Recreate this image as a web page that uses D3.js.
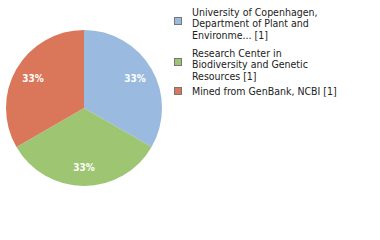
<!DOCTYPE html>
<html>
<head>
<meta charset="utf-8">
<script src="https://cdn.jsdelivr.net/npm/d3@7"></script>
<style>
  body { margin: 0; background: #fff; }
  svg { display: block; font-family: "DejaVu Sans Condensed", "DejaVu Sans", sans-serif; }
</style>
</head>
<body>
<svg id="chart" width="380" height="240"></svg>
<script>
// data
var labels = [
    ["University of Copenhagen,", "Department of Plant and", "Environme... [1]"],
    ["Research Center in", "Biodiversity and Genetic", "Resources [1]"],
    ["Mined from GenBank, NCBI [1]"]
];
var counts = [1, 1, 1];
var colors = ["#9bbae0", "#9dc572", "#da765a"];

var svg = d3.select("#chart");
var cx = 84, cy = 108, radius = 78;

var pie = d3.pie().sort(null).value(function(d) { return d; });
var arcs = pie(counts);
var total = d3.sum(counts);
var arc = d3.arc().innerRadius(0).outerRadius(radius);
var labelArc = d3.arc().innerRadius(59).outerRadius(59);

var g = svg.append("g").attr("transform", "translate(" + cx + "," + cy + ")");

g.selectAll(".slice").data(arcs).enter()
    .append("path")
    .attr("class", "slice")
    .attr("d", arc)
    .attr("fill", function(d, i) { return colors[i]; });

g.selectAll(".pct").data(arcs).enter()
    .append("text")
    .attr("class", "pct")
    .attr("transform", function(d) { return "translate(" + labelArc.centroid(d) + ")"; })
    .attr("text-anchor", "middle")
    .attr("dy", "0.35em")
    .attr("font-size", "10px")
    .attr("font-weight", "bold")
    .attr("fill", "#fff")
    .text(function(d) { return Math.round(d.value / total * 100) + "%"; });

// legend
var boxY = [21, 62, 91];        // square centres
var firstLine = [15.5, 56.5, 94.5]; // first baseline of each entry
var legend = svg.selectAll(".legend").data(labels).enter()
    .append("g")
    .attr("class", "legend");

legend.append("rect")
    .attr("x", 174.5).attr("y", function(d, i) { return boxY[i] - 3.5; })
    .attr("width", 7).attr("height", 7)
    .attr("fill", function(d, i) { return colors[i]; })
    .attr("stroke", "#777")
    .attr("stroke-width", 1);

legend.append("text")
    .attr("font-size", "10.5px")
    .attr("fill", "#222")
    .each(function(d, i) {
        var t = d3.select(this);
        t.selectAll("tspan").data(d).enter()
            .append("tspan")
            .attr("x", 192)
            .attr("y", function(line, j) { return firstLine[i] + j * 11.5; })
            .text(function(line) { return line; });
    });
</script>
</body>
</html>
